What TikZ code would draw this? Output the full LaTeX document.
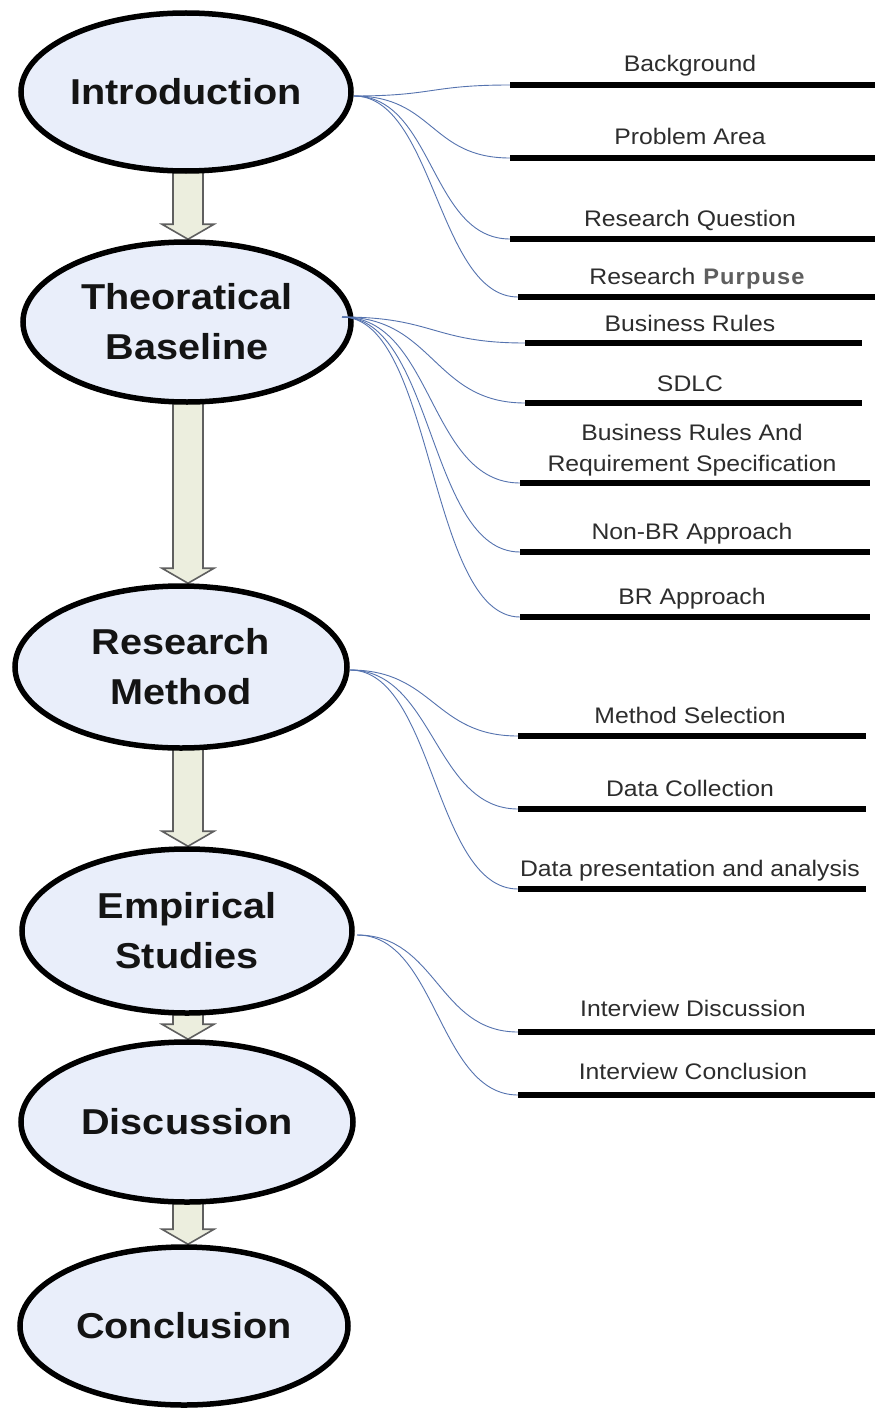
\documentclass[tikz,border=0pt]{standalone}
\usepackage{fontspec}
\setmainfont{Liberation Sans}
\newfontfamily\bigf{Liberation Sans}[FakeStretch=1.1]
\newfontfamily\smallf{Liberation Sans}[FakeStretch=1.1]
\newfontfamily\purpf{Liberation Sans}[FakeStretch=1.05,LetterSpace=5]
\usetikzlibrary{shapes.geometric,calc,backgrounds}
\definecolor{ellfill}{RGB}{233,238,250}
\definecolor{labelgray}{RGB}{45,45,45}
\definecolor{purpgray}{RGB}{95,95,95}
\definecolor{connblue}{RGB}{85,115,175}
\definecolor{arrfill}{RGB}{236,238,222}
\definecolor{arrdraw}{RGB}{95,95,95}
\newcommand\blockarrow[2]{%
  \filldraw[blk] let \p1=(#1.south), \p2=(#2.north) in
    (173pt,\y1+4pt) -- (203pt,\y1+4pt) -- (203pt,\y2+15pt) -- (214pt,\y2+15pt)
    -- (188pt,\y2) -- (162pt,\y2+15pt) -- (173pt,\y2+15pt) -- cycle;}
\begin{document}
\begin{tikzpicture}[x=1pt,y=-1pt,
  phase/.style={ellipse, draw=black, line width=5.5pt, fill=ellfill, inner sep=0pt,
    font=\bigf\bfseries\fontsize{36}{50}\selectfont, align=center, text=black!92},
  lbl/.style={font=\smallf\fontsize{22.5}{31}\selectfont, text=labelgray, align=center,
    inner sep=0pt, anchor=base},
  bar/.style={line width=6pt, black},
  conn/.style={draw=connblue, line width=0.9pt},
  blk/.style={fill=arrfill, draw=arrdraw, line width=1.6pt, line join=miter}]
\useasboundingbox (0,0) rectangle (875,1410);

% phases
\node[phase, minimum width=330pt, minimum height=158pt] (intro) at (186,92) {Introduction};
\node[phase, minimum width=328pt, minimum height=160pt] (theo) at (187,322) {Theoratical\\Baseline};
\node[phase, minimum width=332pt, minimum height=162pt] (rm) at (181,667) {Research\\Method};
\node[phase, minimum width=330pt, minimum height=164pt] (emp) at (187,931) {Empirical\\Studies};
\node[phase, minimum width=332pt, minimum height=160pt] (disc) at (187,1122) {Discussion};
\node[phase, minimum width=328pt, minimum height=158pt] (concl) at (184,1326) {Conclusion};

% block arrows
\begin{pgfonlayer}{background}
\fill[white] (0,0) rectangle (875,1410);
\blockarrow{intro}{theo}
\blockarrow{theo}{rm}
\blockarrow{rm}{emp}
\blockarrow{emp}{disc}
\blockarrow{disc}{concl}
\end{pgfonlayer}

% bars
\foreach \n/\xa/\xb/\y in {bg/510/875/85, pa/510/875/158, rq/510/875/239, rp/518/875/297,
  br/525/862/343, sd/525/862/403, bs/520/870/483, nb/520/870/552, ba/520/870/617,
  ms/518/866/736, dc/518/866/809, dp/518/866/889, id/518/875/1032, ic/518/875/1095}{
  \coordinate (\n L) at (\xa,\y);
  \coordinate (\n R) at (\xb,\y);
  \draw[bar] (\n L) -- (\n R);
}

% labels
\node[lbl] (bgT) at (690,72) {Background};
\node[lbl] (paT) at (690,145) {Problem Area};
\node[lbl] (rqT) at (690,226) {Research Question};
\node[lbl] (rpT) at (697,284) {Research\hspace{0.35em}{\purpf\bfseries\color{purpgray}Purpuse}};
\node[lbl] (brT) at (690,331) {Business Rules};
\node[lbl] (sdT) at (690,391) {SDLC};
\node[lbl] (bsT) at (692,471) {Business Rules And\\Requirement Specification};
\node[lbl] (nbT) at (692,539) {Non-BR Approach};
\node[lbl] (baT) at (692,604) {BR Approach};
\node[lbl] (msT) at (690,723) {Method Selection};
\node[lbl] (dcT) at (690,796) {Data Collection};
\node[lbl] (dpT) at (690,876) {Data presentation and analysis};
\node[lbl] (idT) at (693,1016) {Interview Discussion};
\node[lbl] (icT) at (693,1079) {Interview Conclusion};

% connector sources
\coordinate (i0) at (354,96);
\coordinate (t0) at (342,317);
\coordinate (r0) at (350,670);
\coordinate (e0) at (357,935);

\foreach \t in {bg,pa,rq,rp}{
  \draw[conn] (i0) .. controls +(80,0) and +(-80,0) .. (\t L);
}
\foreach \t in {br,sd,bs,nb,ba}{
  \draw[conn] (t0) .. controls +(92,0) and +(-92,0) .. (\t L);
}
\foreach \t in {ms,dc,dp}{
  \draw[conn] (r0) .. controls +(84,0) and +(-84,0) .. (\t L);
}
\foreach \t in {id,ic}{
  \draw[conn] (e0) .. controls +(80,0) and +(-80,0) .. (\t L);
}
\end{tikzpicture}
\end{document}
